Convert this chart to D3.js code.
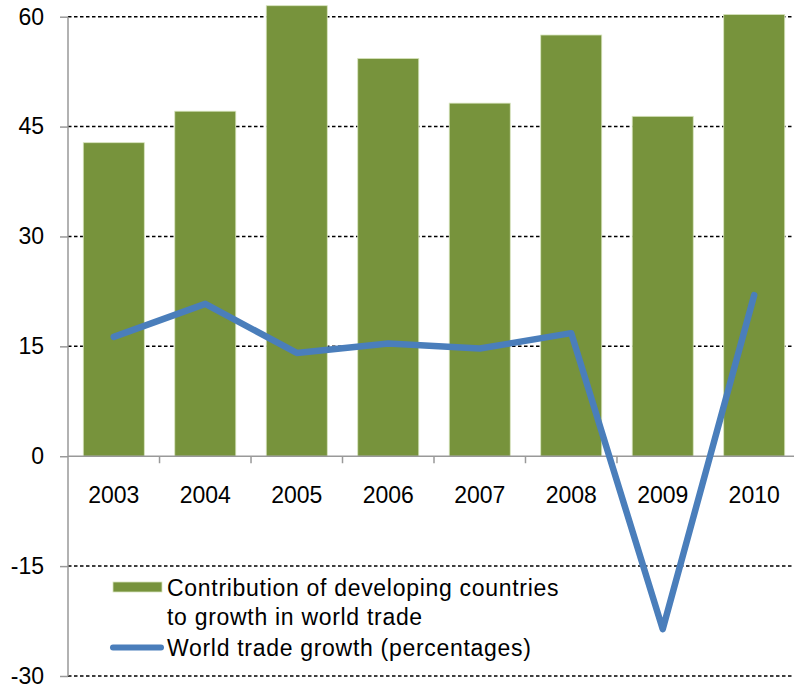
<!DOCTYPE html>
<html>
<head>
<meta charset="utf-8">
<script src="https://cdn.jsdelivr.net/npm/d3@7"></script>
<style>
  body { margin: 0; background: #fff; }
  svg { display: block; font-family: "Liberation Sans", Arial, sans-serif; }
</style>
</head>
<body>
<div id="chart"></div>
<script>
// data
const years = ["2003", "2004", "2005", "2006", "2007", "2008", "2009", "2010"];
const contribution = [42.8, 47.1, 61.5, 54.3, 48.2, 57.5, 46.4, 60.3];
const tradeGrowth = [16.3, 20.8, 14.1, 15.4, 14.7, 16.8, -23.6, 22.0];
const yTicks = [-30, -15, 0, 15, 30, 45, 60];
const legendLabels = [
  ["Contribution of developing countries", "to growth in world trade"],
  ["World trade growth (percentages)"]
];

var width = 794
var height = 687
var left = 68, right = 800

var barColor = "#77933C"
var lineColor = "#4A7EBB"

var svg = d3.select("#chart")
  .append("svg")
    .attr("width", width)
    .attr("height", height)

var x = d3.scaleBand()
  .domain(years)
  .range([left, right])
  .paddingInner(0.333)
  .paddingOuter(0.167)

var y = d3.scaleLinear()
  .domain([-30, 60])
  .range([676, 16.7])

// dashed gridlines
svg.append("g")
  .selectAll("line")
  .data(yTicks.filter(d => d != 0))
  .enter()
  .append("line")
    .attr("x1", left)
    .attr("x2", width)
    .attr("y1", d => y(d))
    .attr("y2", d => y(d))
    .attr("stroke", "#000")
    .attr("stroke-width", 1.5)
    .attr("stroke-dasharray", "3.5,2.5")

// bars
svg.append("g")
  .selectAll("rect")
  .data(contribution)
  .enter()
  .append("rect")
    .attr("x", (d, i) => x(years[i]))
    .attr("width", x.bandwidth())
    .attr("y", d => y(d))
    .attr("height", d => y(0) - y(d))
    .attr("fill", barColor)
    .attr("stroke", "#d7e4bd")
    .attr("stroke-width", 0.8)

// y axis (plain hyphen for negatives, like the original)
var yAxis = d3.axisLeft(y)
  .tickValues(yTicks)
  .tickFormat(d => String(d))
  .tickSize(8)
  .tickPadding(16)

var gy = svg.append("g")
  .attr("transform", "translate(" + left + ",0)")
  .call(yAxis)
gy.select(".domain").remove()
gy.append("line")
  .attr("y1", y(60))
  .attr("y2", y(-30))
  .attr("stroke", "#999")
  .attr("stroke-width", 1.5)
gy.selectAll(".tick line").attr("stroke", "#999").attr("stroke-width", 1.5)
gy.selectAll(".tick text")
  .attr("fill", "#000")
  .style("font-size", "23px")
  .style("font-family", "Liberation Sans, Arial, sans-serif")

// x axis at zero, ticks on band boundaries
var gx = svg.append("g")
gx.append("line")
  .attr("x1", left)
  .attr("x2", width)
  .attr("y1", y(0))
  .attr("y2", y(0))
  .attr("stroke", "#999")
  .attr("stroke-width", 1.5)
gx.selectAll(".xt")
  .data(years.slice(1))
  .enter()
  .append("line")
    .attr("class", "xt")
    .attr("x1", d => x(d) - x.step() * x.paddingInner() / 2)
    .attr("x2", d => x(d) - x.step() * x.paddingInner() / 2)
    .attr("y1", y(0))
    .attr("y2", y(0) + 7)
    .attr("stroke", "#999")
    .attr("stroke-width", 1.5)
gx.selectAll("text")
  .data(years)
  .enter()
  .append("text")
    .attr("x", d => x(d) + x.bandwidth() / 2)
    .attr("y", 503)
    .attr("text-anchor", "middle")
    .style("font-size", "23px")
    .text(d => d)

// line series
var line = d3.line()
  .x((d, i) => x(years[i]) + x.bandwidth() / 2)
  .y(d => y(d))

svg.append("path")
  .datum(tradeGrowth)
  .attr("d", line)
  .attr("fill", "none")
  .attr("stroke", lineColor)
  .attr("stroke-width", 6.5)
  .attr("stroke-linejoin", "round")
  .attr("stroke-linecap", "round")

// legend
var lg = svg.append("g")
lg.append("rect")
  .attr("x", 113)
  .attr("y", 582)
  .attr("width", 49)
  .attr("height", 10)
  .attr("fill", barColor)
  .attr("stroke", "#d7e4bd")
  .attr("stroke-width", 0.8)
lg.append("line")
  .attr("x1", 113)
  .attr("x2", 161)
  .attr("y1", 647.5)
  .attr("y2", 647.5)
  .attr("stroke", lineColor)
  .attr("stroke-width", 6)
  .attr("stroke-linecap", "round")

var legendY = [[595.5, 625.3], [655.5]]
legendLabels.forEach(function(lines, k) {
  lines.forEach(function(t, j) {
    lg.append("text")
      .attr("x", 167)
      .attr("y", legendY[k][j])
      .style("font-size", "23px")
      .style("letter-spacing", "0.7px")
      .text(t)
  })
})
</script>
</body>
</html>
